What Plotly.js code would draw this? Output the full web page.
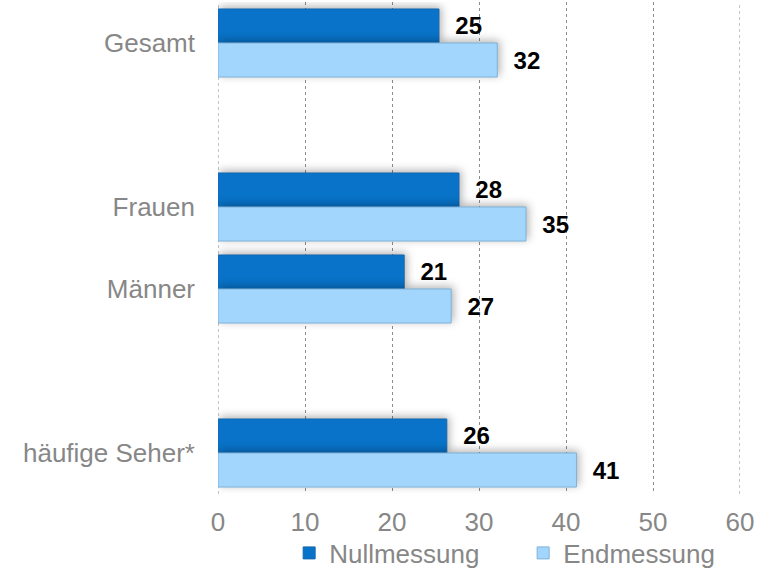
<!DOCTYPE html>
<html>
<head>
<meta charset="utf-8">
<script src="https://cdn.plot.ly/plotly-3.0.1.min.js"></script>
<style>
  html, body { margin: 0; padding: 0; background: #fff; }
  #chart { width: 769px; height: 569px; }
  .barlayer .point path { filter: drop-shadow(2px -2px 4px rgba(0,0,0,0.30)); }
</style>
</head>
<body>
<div id="chart"></div>
<script>
const categories = ["Gesamt", " ", "Frauen", "Männer", "  ", "häufige Seher*"];
const nullmessung = [25.4, null, 27.7, 21.4, null, 26.3];
const endmessung = [32.1, null, 35.4, 26.8, null, 41.2];
const seriesNames = ["Nullmessung", "Endmessung"];
const xTicks = [0, 10, 20, 30, 40, 50, 60];

const font = "Liberation Sans, Arial, sans-serif";
const gray = "#878787";
const gridColor = "#8c8c8c";

const traces = [
  {
    type: "bar", orientation: "h", name: seriesNames[0],
    y: categories, x: nullmessung,
    marker: { color: "#0873C8", line: { color: "#1668AE", width: 1 } },
    texttemplate: "\u00a0\u00a0%{x:.0f}", textposition: "outside",
    textfont: { family: font, size: 24, color: "#000", weight: "bold" },
    cliponaxis: false, hoverinfo: "skip"
  },
  {
    type: "bar", orientation: "h", name: seriesNames[1],
    y: categories, x: endmessung,
    marker: { color: "#A3D6FD", line: { color: "#7FB2D9", width: 1 } },
    texttemplate: "\u00a0\u00a0%{x:.0f}", textposition: "outside",
    textfont: { family: font, size: 24, color: "#000", weight: "bold" },
    cliponaxis: false, hoverinfo: "skip"
  }
];

// dotted gridlines at the two range edges (Plotly hides grid lines on the plot border)
const edgeTicks = [xTicks[0], xTicks[xTicks.length - 1]];
const shapes = edgeTicks.map(v => ({
  type: "line", xref: "x", yref: "paper", x0: v, x1: v, y0: 0, y1: 1,
  layer: "below", line: { color: gridColor, width: 1, dash: "dot" }
}));

const layout = {
  width: 769, height: 569,
  margin: { l: 218, r: 29, t: 2, b: 75 },
  paper_bgcolor: "#fff", plot_bgcolor: "#fff",
  barmode: "group", bargap: 0.17, bargroupgap: 0,
  font: { family: font, size: 26, color: gray },
  shapes: shapes,
  xaxis: {
    range: [0, 60], tickvals: xTicks, ticktext: xTicks.map(String),
    showgrid: true, gridcolor: gridColor, griddash: "dot", gridwidth: 1,
    zeroline: false, showline: false, ticks: "",
    ticklabelstandoff: 10,
    tickfont: { family: font, size: 26, color: gray }
  },
  yaxis: {
    type: "category", categoryorder: "array", categoryarray: categories,
    autorange: "reversed", showgrid: false, zeroline: false, showline: false,
    ticks: "", ticklabelstandoff: 22,
    tickfont: { family: font, size: 26, color: gray }
  },
  showlegend: true,
  legend: {
    orientation: "h", xref: "container", yref: "container",
    x: 0.376, xanchor: "left", y: 1 - 553/569, yanchor: "middle",
    entrywidth: 189, entrywidthmode: "pixels",
    traceorder: "normal",
    font: { family: font, size: 26, color: gray },
    bgcolor: "rgba(0,0,0,0)"
  }
};

Plotly.newPlot("chart", traces, layout, { staticPlot: true, displayModeBar: false });
</script>
</body>
</html>
